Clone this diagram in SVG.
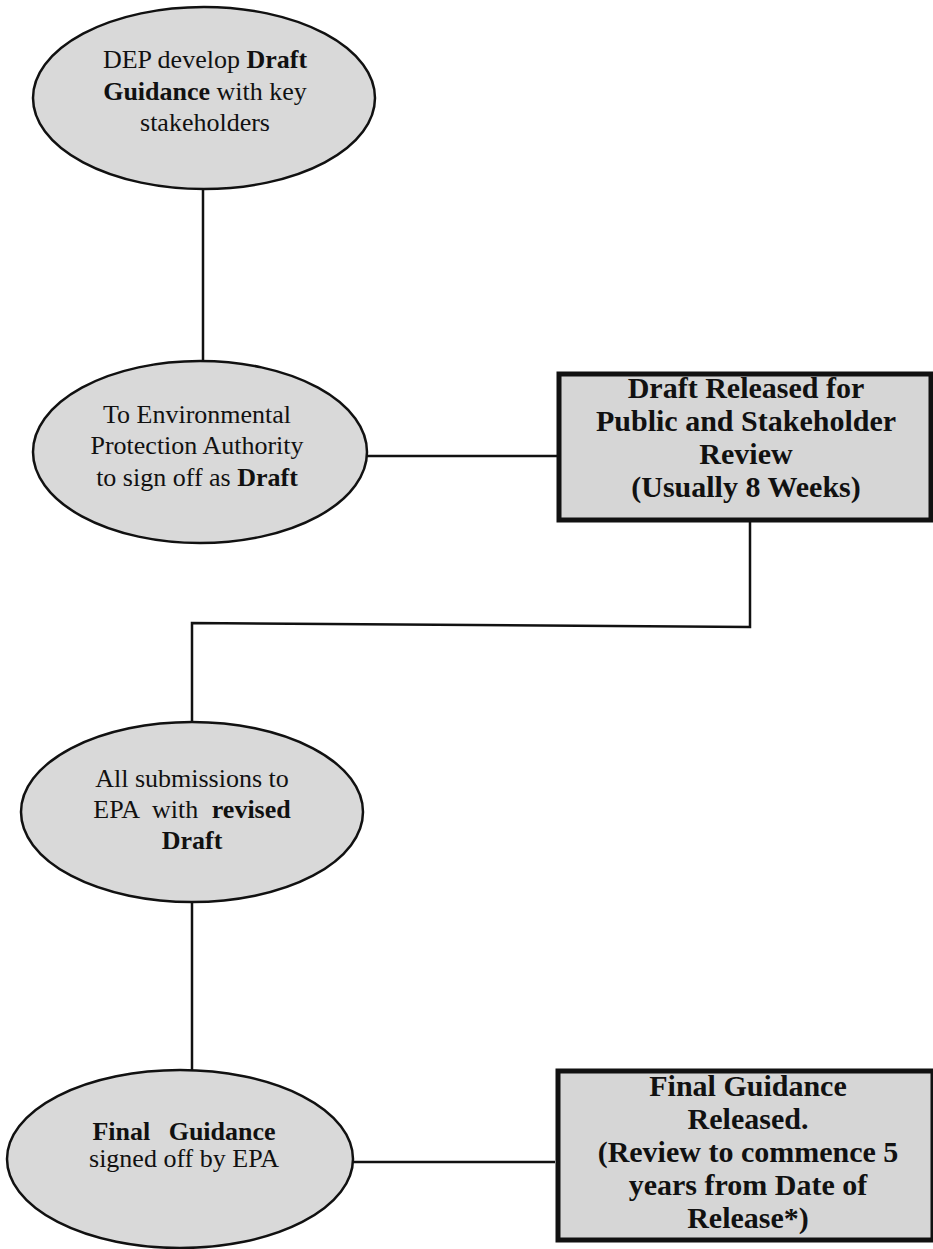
<svg xmlns="http://www.w3.org/2000/svg" width="933" height="1249" viewBox="0 0 933 1249">
  <style>
    .oval { fill: #d9d9d9; stroke: #111; stroke-width: 2.5; }
    .box { fill: #d6d6d6; stroke: #111; stroke-width: 5; }
    .conn { fill: none; stroke: #111; stroke-width: 2.5; }
    .t { font-family: "Liberation Serif", "Times New Roman", serif; font-size: 26px; fill: #111; text-anchor: middle; }
    .bt { font-family: "Liberation Serif", "Times New Roman", serif; font-size: 30px; font-weight: bold; fill: #111; text-anchor: middle; }
    .b { font-weight: bold; }
  </style>
  <rect width="933" height="1249" fill="#ffffff"/>

  <g id="connectors">
    <line class="conn" x1="203" y1="189" x2="203" y2="361"/>
    <line class="conn" x1="367" y1="456" x2="557" y2="456"/>
    <polyline class="conn" points="750,520 750,627 192,623 192,722"/>
    <line class="conn" x1="192" y1="902" x2="192" y2="1070"/>
    <line class="conn" x1="353" y1="1162" x2="555" y2="1162"/>
  </g>

  <g id="node-dep-draft">
    <ellipse class="oval" cx="204" cy="98" rx="171" ry="91"/>
    <text class="t" x="205" y="68">DEP develop <tspan class="b">Draft</tspan></text>
    <text class="t" x="205" y="100"><tspan class="b">Guidance</tspan> with key</text>
    <text class="t" x="205" y="131">stakeholders</text>
  </g>

  <g id="node-epa-signoff-draft">
    <ellipse class="oval" cx="200" cy="452" rx="167" ry="91"/>
    <text class="t" x="197" y="423">To Environmental</text>
    <text class="t" x="197" y="454">Protection Authority</text>
    <text class="t" x="197" y="486">to sign off as <tspan class="b">Draft</tspan></text>
  </g>

  <g id="node-draft-released">
    <rect class="box" x="559" y="374" width="372" height="146"/>
    <text class="bt" x="746" y="398">Draft Released for</text>
    <text class="bt" x="746" y="431">Public and Stakeholder</text>
    <text class="bt" x="746" y="464">Review</text>
    <text class="bt" x="746" y="497">(Usually 8 Weeks)</text>
  </g>

  <g id="node-submissions">
    <ellipse class="oval" cx="192" cy="812" rx="171" ry="90"/>
    <text class="t" x="192" y="787">All submissions to</text>
    <text class="t" x="192" y="818" word-spacing="7">EPA with <tspan class="b">revised</tspan></text>
    <text class="t b" x="192" y="849">Draft</text>
  </g>

  <g id="node-final-signoff">
    <ellipse class="oval" cx="180" cy="1159" rx="173" ry="89"/>
    <text class="t b" x="184" y="1140" word-spacing="12">Final Guidance</text>
    <text class="t" x="184" y="1167">signed off by EPA</text>
  </g>

  <g id="node-final-released">
    <rect class="box" x="558" y="1071" width="375" height="169"/>
    <text class="bt" x="748" y="1096">Final Guidance</text>
    <text class="bt" x="748" y="1129">Released.</text>
    <text class="bt" x="748" y="1162">(Review to commence 5</text>
    <text class="bt" x="748" y="1195">years from Date of</text>
    <text class="bt" x="748" y="1228">Release*)</text>
  </g>
</svg>
